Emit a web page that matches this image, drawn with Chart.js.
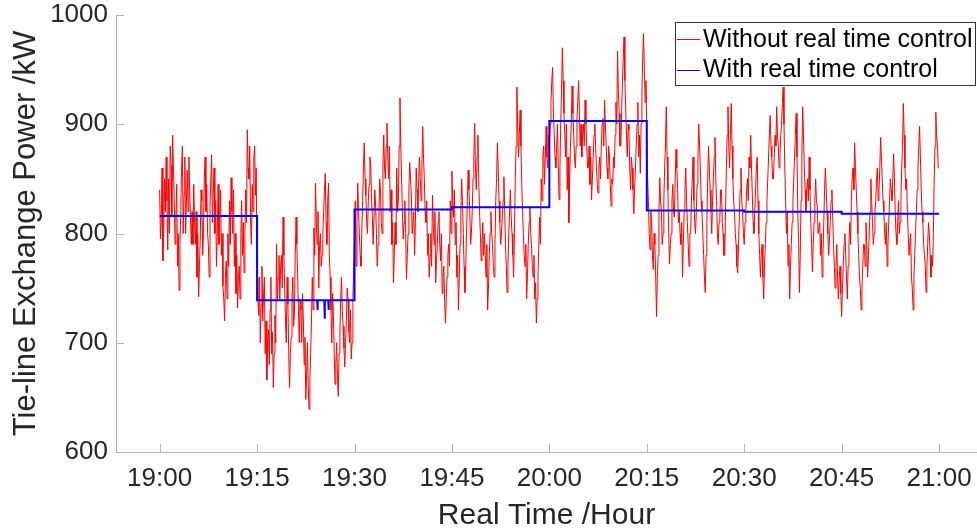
<!DOCTYPE html>
<html><head><meta charset="utf-8">
<script src="https://cdn.jsdelivr.net/npm/chart.js@4"></script>
<style>html,body{margin:0;padding:0;background:#fff;overflow:hidden}#wrap{width:977px;height:529px;position:relative}</style>
</head><body><div id="wrap"><canvas id="c" width="977" height="529"></canvas></div>
<script>
// x positions in minutes after 19:00
const tickMinutes = [0, 15, 30, 45, 60, 75, 90, 105, 120];
const tickLabels = ['19:00', '19:15', '19:30', '19:45', '20:00', '20:15', '20:30', '20:45', '21:00'];
const yTicks = [600, 700, 800, 900, 1000];

// Without real time control: one reading every 0.125 min (kW), 40 readings per 5 minutes
const redStepMinutes = 0.125;
const redValues = [
  840,795,810,860,775,800,850,820,870,830,785,850,800,880,862,815,890,860,830,790,815,845,770,800,748,790,820,860,880,800,835,870,800,830,858,820,870,840,815,790,
  820,790,845,810,790,820,760,800,742,770,795,840,830,780,800,850,870,820,845,800,790,760,825,850,872,810,835,860,800,830,770,800,845,790,810,840,780,800,752,740,
  720,760,775,740,800,770,830,790,851,820,800,840,770,800,745,780,732,760,770,740,800,830,780,810,764,800,840,810,895,860,850,880,810,790,845,820,869,880,835,860,
  760,740,725,760,700,735,770,720,745,760,690,720,666,700,712,680,730,760,690,710,659,690,725,700,790,740,760,780,740,770,780,750,815,780,750,720,700,760,735,690,
  659,690,705,740,760,715,728,780,815,790,760,730,700,740,730,700,745,720,680,705,648,670,700,660,639,665,690,720,760,730,805,780,846,810,790,820,750,790,800,770,
  780,800,820,840,855,810,790,830,846,780,760,730,700,745,725,690,662,680,700,670,651,690,710,740,760,730,715,695,678,700,720,750,740,710,700,730,685,700,740,770,
  800,830,770,810,846,820,800,780,770,800,830,860,883,850,835,810,800,830,845,870,862,830,815,790,790,840,825,800,770,790,810,850,840,810,800,860,890,860,850,880,
  901,870,850,880,820,840,790,810,755,780,810,790,860,820,830,880,924,880,850,820,795,810,830,800,758,780,800,840,865,850,835,800,800,820,780,810,860,840,820,850,
  870,850,830,860,898,870,850,820,810,830,780,800,760,780,800,770,835,810,790,820,755,775,790,810,820,790,775,800,745,760,770,740,718,740,760,780,790,770,830,800,
  857,830,815,840,790,810,760,780,730,760,790,820,850,830,800,770,746,770,800,830,858,840,820,790,800,820,850,870,901,860,840,870,890,850,820,800,775,790,810,780,
  800,780,760,790,730,750,780,800,820,800,790,770,760,790,830,850,883,860,830,810,790,800,815,830,852,820,790,770,746,770,800,820,840,815,800,780,760,800,850,880,
  934,900,870,890,913,880,845,820,800,780,770,790,740,760,790,810,825,800,790,770,760,780,740,755,718,740,760,790,815,790,850,830,870,880,845,870,898,870,860,890,
  880,900,920,940,952,910,890,870,860,880,900,860,831,860,900,930,970,940,910,890,870,900,840,870,810,850,880,900,935,910,890,870,860,880,905,920,940,910,880,900,
  870,890,900,880,922,900,880,860,860,880,845,870,831,850,870,890,900,880,860,845,837,860,870,850,880,900,905,880,922,900,880,860,850,880,870,845,825,850,845,870,
  860,890,920,900,967,930,910,880,880,910,940,960,980,940,915,890,870,900,895,860,840,870,860,840,818,840,860,880,900,920,870,890,855,900,930,960,983,950,920,940,
  890,850,830,800,785,820,810,780,767,800,790,760,724,760,780,820,851,830,820,790,800,830,860,880,916,870,840,800,772,790,800,830,845,820,815,850,877,860,840,810,
  820,800,790,810,760,790,820,840,860,830,810,790,770,800,800,830,850,870,830,810,800,820,845,870,900,880,860,830,820,800,780,760,746,780,810,850,880,860,840,820,
  800,830,850,870,888,850,830,800,790,810,815,840,840,810,800,780,780,820,860,890,916,880,860,890,919,880,850,830,820,800,790,770,764,790,815,840,860,830,820,800,
  790,810,820,840,850,830,870,860,890,860,835,810,800,820,840,860,870,830,800,780,760,780,790,760,740,770,790,810,830,850,870,890,908,880,870,850,850,870,890,880,
  916,890,880,860,870,890,900,920,934,900,860,830,800,820,770,790,740,770,790,810,830,850,870,890,910,870,820,790,746,780,830,870,916,890,860,840,820,840,850,830,
  870,840,810,790,765,790,810,830,850,830,825,800,800,810,780,800,760,780,810,840,860,840,820,800,780,795,810,830,840,815,790,770,750,770,790,760,740,760,770,745,
  724,750,770,790,800,780,760,740,770,790,810,790,830,850,860,840,883,860,840,820,800,780,760,750,730,750,770,790,790,770,810,790,760,780,800,820,850,830,810,790,
  800,820,830,850,860,830,840,860,888,870,850,830,820,800,790,810,770,790,810,830,850,840,830,850,873,850,820,800,790,810,830,800,810,830,860,880,919,890,860,840,
  850,820,800,780,780,800,760,750,730,760,780,800,820,840,860,880,898,870,840,820,810,790,780,770,746,770,790,810,800,780,760,780,770,800,850,880,911,890,880,860,
  860
];

// With real time control (step profile)
const blueTimes = [0, 15, 15, 24.25, 24.3, 24.35, 25.35, 25.4, 25.45, 25.95, 26.0, 26.05, 30, 30, 45, 45, 60, 60, 75, 75, 90, 90, 105, 105, 120];
const blueValues = [816, 816, 739, 739, 730, 739, 739, 722, 739, 739, 730, 739, 739, 822, 822, 824, 824, 903, 903, 821, 821, 820, 820, 818, 818];

const seriesLabels = ['Without real time control', 'With real time control'];
const seriesColors = ['#ff0000', '#0000ff'];

const redData = redValues.map((v, i) => ({x: i * redStepMinutes, y: v}));
const blueData = blueTimes.map((t, i) => ({x: t, y: blueValues[i]}));

const AXIS_COLOR = '#b4b4b4';
const TEXT_COLOR = '#262626';
const FONT = '"Liberation Sans", Arial, sans-serif';

const innerTicks = {
  id: 'innerTicks',
  afterDatasetsDraw(chart) {
    const ctx = chart.ctx, xs = chart.scales.x, ys = chart.scales.y, a = chart.chartArea;
    ctx.save();
    ctx.strokeStyle = AXIS_COLOR; ctx.lineWidth = 1;
    ctx.beginPath();
    xs.ticks.forEach(t => {
      const px = Math.round(xs.getPixelForValue(t.value)) + 0.5;
      ctx.moveTo(px, a.bottom); ctx.lineTo(px, a.bottom - 8);
    });
    ys.ticks.forEach(t => {
      const py = Math.round(ys.getPixelForValue(t.value)) + 0.5;
      ctx.moveTo(a.left, py); ctx.lineTo(a.left + 8, py);
    });
    ctx.stroke();
    ctx.restore();
  }
};

const boxLegend = {
  id: 'boxLegend',
  afterDraw(chart) {
    const ctx = chart.ctx;
    const bx = 675.5, by = 22.5, bw = 300, bh = 63;
    ctx.save();
    ctx.fillStyle = '#fff';
    ctx.fillRect(bx, by, bw, bh);
    ctx.strokeStyle = '#333'; ctx.lineWidth = 1;
    ctx.strokeRect(bx, by, bw, bh);
    ctx.font = '25px ' + FONT;
    ctx.textBaseline = 'middle';
    ctx.fillStyle = '#000';
    const rows = [40, 70.5];
    seriesLabels.forEach((lab, i) => {
      ctx.strokeStyle = seriesColors[i];
      ctx.beginPath();
      ctx.moveTo(677, Math.round(rows[i]) - 0.5); ctx.lineTo(700, Math.round(rows[i]) - 0.5);
      ctx.stroke();
      ctx.fillText(lab, 703, rows[i]);
    });
    ctx.restore();
  }
};

new Chart(document.getElementById('c'), {
  type: 'line',
  data: {
    datasets: [
      {label: seriesLabels[0], data: redData, borderColor: seriesColors[0], borderWidth: 1, pointRadius: 0, tension: 0, order: 1},
      {label: seriesLabels[1], data: blueData, borderColor: seriesColors[1], borderWidth: 2, pointRadius: 0, tension: 0, order: 0}
    ]
  },
  options: {
    responsive: false,
    animation: false,
    devicePixelRatio: 1,
    layout: {padding: {top: 15, right: 0, left: 0, bottom: 0}},
    plugins: {legend: {display: false}, tooltip: {enabled: false}},
    scales: {
      x: {
        type: 'linear', min: -6.72, max: 125.84,
        afterBuildTicks: s => { s.ticks = tickMinutes.map(v => ({value: v})); },
        afterFit: s => { s.height = 77; s.paddingLeft = 0; s.paddingRight = 0; },
        ticks: {
          autoSkip: false, maxRotation: 0, padding: 11, color: TEXT_COLOR,
          font: {family: FONT, size: 26},
          callback: v => { const i = tickMinutes.indexOf(v); return i >= 0 ? tickLabels[i] : ''; }
        },
        grid: {drawOnChartArea: false, drawTicks: false},
        border: {color: AXIS_COLOR, width: 1},
        title: {display: true, text: 'Real Time /Hour', color: TEXT_COLOR,
          font: {family: FONT, size: 30, lineHeight: 0.8}, padding: {top: 0, bottom: 1}}
      },
      y: {
        min: 600, max: 1000,
        afterBuildTicks: s => { s.ticks = yTicks.map(v => ({value: v})); },
        afterFit: s => { s.width = 116; s.paddingTop = 0; s.paddingBottom = 0; },
        ticks: {padding: 8, color: TEXT_COLOR, font: {family: FONT, size: 26}, callback: v => String(v)},
        grid: {drawOnChartArea: false, drawTicks: false},
        border: {color: AXIS_COLOR, width: 1},
        title: {display: true, text: 'Tie-line Exchange Power /kW', color: TEXT_COLOR,
          font: {family: FONT, size: 31, lineHeight: 1.2}, padding: {top: 8, bottom: 0}}
      }
    }
  },
  plugins: [innerTicks, boxLegend]
});
</script>
</body></html>
